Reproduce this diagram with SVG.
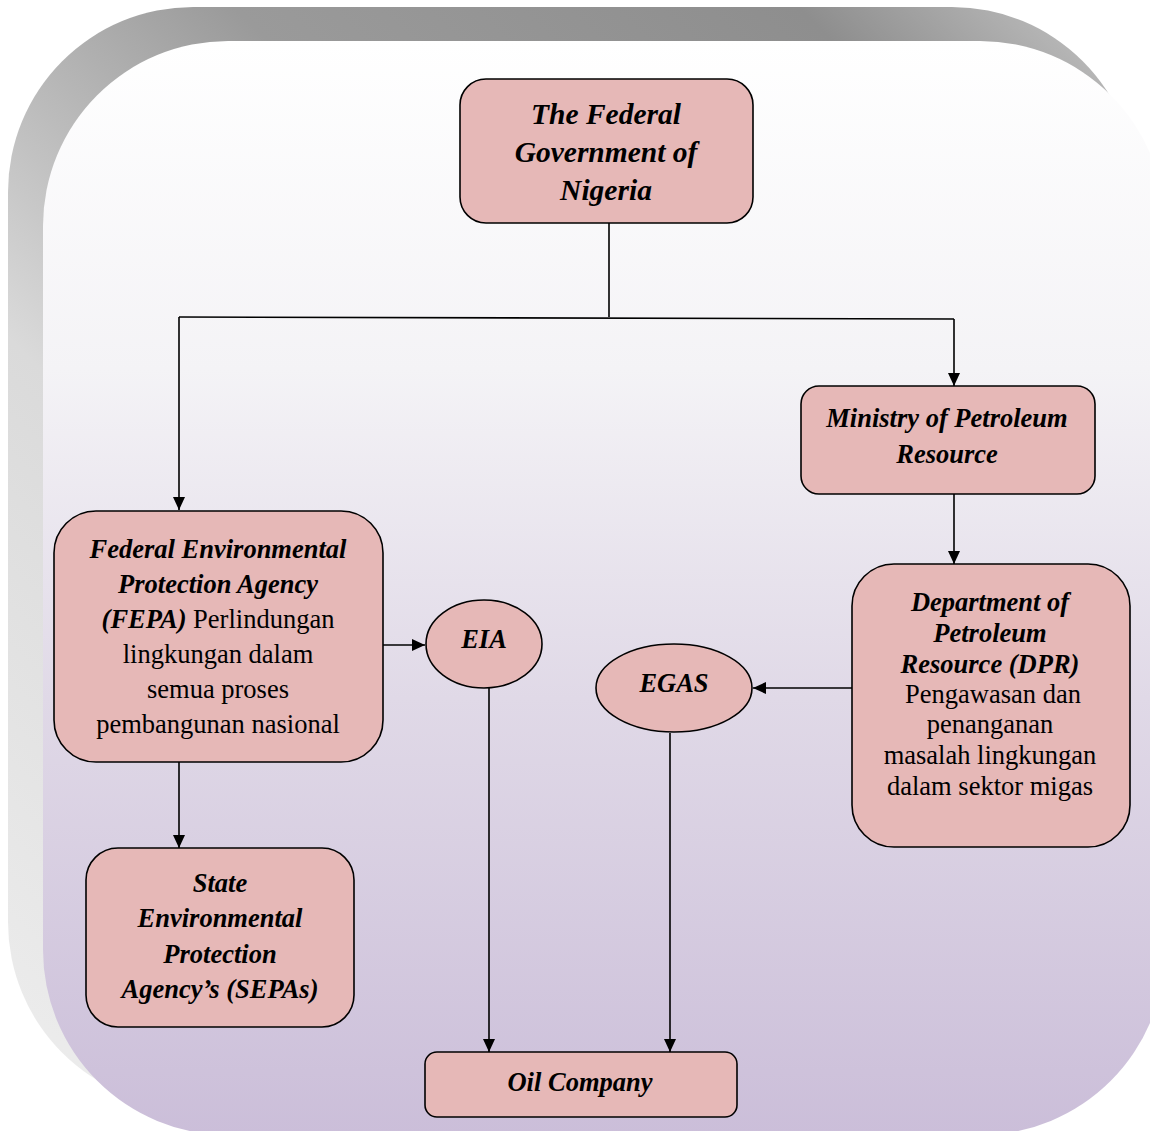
<svg xmlns="http://www.w3.org/2000/svg" width="1150" height="1131" viewBox="0 0 1150 1131">
<defs>
<linearGradient id="shadowGrad" x1="0" y1="1" x2="1" y2="0">
<stop offset="0" stop-color="#eeeeee"/>
<stop offset="0.35" stop-color="#dadada"/>
<stop offset="0.6" stop-color="#9a9a9a"/>
<stop offset="0.85" stop-color="#8e8e8e"/>
<stop offset="1" stop-color="#c8c8c8"/>
</linearGradient>
<linearGradient id="panelGrad" x1="0" y1="0" x2="0" y2="1">
<stop offset="0" stop-color="#ffffff"/>
<stop offset="0.3" stop-color="#f4f3f6"/>
<stop offset="0.6" stop-color="#e0d9e7"/>
<stop offset="1" stop-color="#cbbed9"/>
</linearGradient>
<marker id="arrow" markerUnits="userSpaceOnUse" markerWidth="13" markerHeight="12" refX="13" refY="6" orient="auto">
<path d="M0,0 L13,6 L0,12 z" fill="#000"/>
</marker>
<style>
.box{fill:#e6b8b7;stroke:#000;stroke-width:1.6}
text{font-family:'Liberation Serif','Times New Roman',serif;font-size:26.5px;fill:#000;text-anchor:middle}
.bi{font-weight:bold;font-style:italic}
.r{font-weight:normal;font-style:normal}
.big{font-size:29.5px}
.conn{fill:none;stroke:#000;stroke-width:1.6}
</style>
</defs>
<rect x="0" y="0" width="1150" height="1131" fill="#ffffff"/>
<rect x="8" y="7" width="1129" height="1100" rx="185" ry="185" fill="url(#shadowGrad)"/>
<rect x="43" y="41" width="1122" height="1094" rx="185" ry="185" fill="url(#panelGrad)"/>

<g id="connectors">
<path class="conn" d="M609,223 V317"/>
<path class="conn" d="M179,317 L954,319"/>
<path class="conn" d="M179,317 V510" marker-end="url(#arrow)"/>
<path class="conn" d="M954,319 V386" marker-end="url(#arrow)"/>
<path class="conn" d="M954,494 V564" marker-end="url(#arrow)"/>
<path class="conn" d="M383,645 H425" marker-end="url(#arrow)"/>
<path class="conn" d="M852,688 H753" marker-end="url(#arrow)"/>
<path class="conn" d="M489,688 V1052" marker-end="url(#arrow)"/>
<path class="conn" d="M670,733 V1052" marker-end="url(#arrow)"/>
<path class="conn" d="M179,762 V848" marker-end="url(#arrow)"/>
</g>

<g id="node-fgn">
<rect class="box" x="460" y="79" width="293" height="144" rx="26"/>
<text class="bi big" x="606" y="124">The Federal</text>
<text class="bi big" x="606" y="162">Government of</text>
<text class="bi big" x="606" y="200">Nigeria</text>
</g>

<g id="node-ministry">
<rect class="box" x="801" y="386" width="294" height="108" rx="18"/>
<text class="bi" x="947" y="427">Ministry of Petroleum</text>
<text class="bi" x="947" y="463">Resource</text>
</g>

<g id="node-dpr">
<rect class="box" x="852" y="564" width="278" height="283" rx="42"/>
<text class="bi" x="990" y="611">Department of</text>
<text class="bi" x="990" y="642">Petroleum</text>
<text class="bi" x="990" y="673">Resource (DPR)</text>
<text x="993" y="703">Pengawasan dan</text>
<text x="990" y="733">penanganan</text>
<text x="990" y="764">masalah lingkungan</text>
<text x="990" y="795">dalam sektor migas</text>
</g>

<g id="node-egas">
<ellipse class="box" cx="674" cy="688" rx="78" ry="44"/>
<text class="bi" x="674" y="692">EGAS</text>
</g>

<g id="node-eia">
<ellipse class="box" cx="484" cy="644" rx="58" ry="44"/>
<text class="bi" x="484" y="648">EIA</text>
</g>

<g id="node-fepa">
<rect class="box" x="54" y="511" width="329" height="251" rx="42"/>
<text class="bi" x="218" y="558">Federal Environmental</text>
<text class="bi" x="218" y="593">Protection Agency</text>
<text x="218" y="628"><tspan class="bi">(FEPA)</tspan><tspan class="r"> Perlindungan</tspan></text>
<text x="218" y="663">lingkungan dalam</text>
<text x="218" y="698">semua proses</text>
<text x="218" y="733">pembangunan nasional</text>
</g>

<g id="node-sepas">
<rect class="box" x="86" y="848" width="268" height="179" rx="32"/>
<text class="bi" x="220" y="892">State</text>
<text class="bi" x="220" y="927">Environmental</text>
<text class="bi" x="220" y="963">Protection</text>
<text class="bi" x="220" y="998">Agency’s (SEPAs)</text>
</g>

<g id="node-oil">
<rect class="box" x="425" y="1052" width="312" height="65" rx="12"/>
<text class="bi" x="580" y="1091">Oil Company</text>
</g>
</svg>
